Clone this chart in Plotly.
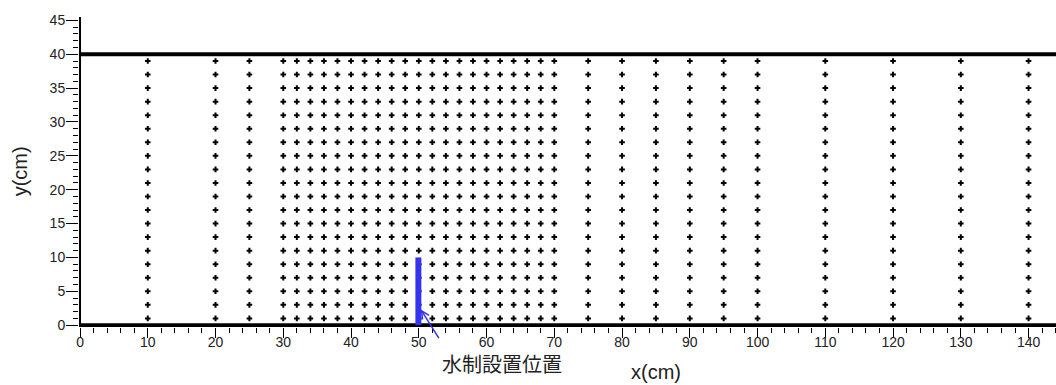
import plotly.graph_objects as go

# Measurement grid (cm)
x_cols = [10, 20, 25, 30, 32, 34, 36, 38, 40, 42, 44, 46, 48, 50, 52, 54, 56, 58,
          60, 62, 64, 66, 68, 70, 75, 80, 85, 90, 95, 100, 110, 120, 130, 140]
y_rows = [1, 3, 5, 7, 9, 11, 13, 15, 17, 19, 21, 23, 25, 27, 29, 31, 33, 35, 37, 39]

# Channel walls and groyne
wall_y = [0, 40]
groyne_x = 50
groyne_len = 10
groyne_label = "水制設置位置"

x_ticks = [0, 10, 20, 30, 40, 50, 60, 70, 80, 90, 100, 110, 120, 130, 140]
y_ticks = [0, 5, 10, 15, 20, 25, 30, 35, 40, 45]

X_RANGE = [-0.15, 144.05]
Y_RANGE = [-0.27, 45.5]

px_, py_ = [], []
for xv in x_cols:
    for yv in y_rows:
        px_.append(xv)
        py_.append(yv)

fig = go.Figure()
fig.add_trace(go.Scatter(
    x=px_, y=py_, mode="markers",
    marker=dict(symbol="cross-thin", size=4, color="black",
                line=dict(color="black", width=2)),
    hoverinfo="skip", showlegend=False, cliponaxis=False,
))

BLUE = "#3434ee"
shapes = []
# walls
for wy in wall_y:
    shapes.append(dict(type="line", xref="x", yref="y", x0=X_RANGE[0], x1=X_RANGE[1],
                       y0=wy, y1=wy, line=dict(color="black", width=4), layer="above"))
# y axis line
shapes.append(dict(type="line", xref="x", yref="y", x0=0, x1=0,
                   y0=Y_RANGE[0], y1=Y_RANGE[1], line=dict(color="black", width=2), layer="above"))
# groyne
shapes.append(dict(type="rect", xref="x", yref="y", x0=groyne_x - 0.5, x1=groyne_x + 0.38,
                   y0=0, y1=groyne_len, fillcolor=BLUE, line=dict(width=0), layer="above"))

annotations = [
    dict(x=groyne_x + 0.3, y=2.3, xref="x", yref="y", text="", showarrow=True,
         ax=19, ay=30, arrowhead=5, arrowsize=1, arrowwidth=1.5, arrowcolor=BLUE,
         standoff=0, startstandoff=0),
    dict(x=0.433, y=-0.118, xref="paper", yref="paper", text=groyne_label, showarrow=False,
         font=dict(family="Noto Sans CJK JP", size=20, color="#222222"),
         xanchor="center", yanchor="middle"),
    dict(x=0.591, y=-0.145, xref="paper", yref="paper", text="x(cm)", showarrow=False,
         font=dict(family="Liberation Sans, Arial", size=20, color="#222222"),
         xanchor="center", yanchor="middle"),
    dict(x=-0.0604, y=0.502, xref="paper", yref="paper", text="y(cm)", showarrow=False,
         textangle=-90,
         font=dict(family="Liberation Sans, Arial", size=20, color="#222222"),
         xanchor="center", yanchor="middle"),
]

fig.update_layout(
    width=1056, height=385,
    margin=dict(l=79, r=0, t=17, b=58),
    paper_bgcolor="white", plot_bgcolor="white",
    shapes=shapes, annotations=annotations,
    font=dict(family="Liberation Sans, Arial", size=14, color="#222222"),
    xaxis=dict(range=X_RANGE, showgrid=False, zeroline=False, showline=False,
               tickmode="array", tickvals=x_ticks, ticktext=[str(v) for v in x_ticks],
               ticks="outside", ticklen=10, tickwidth=1, tickcolor="black",
               ticklabelstandoff=-8,
               minor=dict(dtick=2, tick0=0, ticks="outside", ticklen=5, tickwidth=1,
                          tickcolor="black", showgrid=False),
               tickfont=dict(size=14, color="#222222")),
    yaxis=dict(range=Y_RANGE, showgrid=False, zeroline=False, showline=False,
               tickmode="array", tickvals=y_ticks, ticktext=[str(v) for v in y_ticks],
               ticks="outside", ticklen=12, tickwidth=1, tickcolor="black",
               ticklabelstandoff=-2,
               minor=dict(dtick=1, tick0=0, ticks="outside", ticklen=5, tickwidth=1,
                          tickcolor="black", showgrid=False),
               tickfont=dict(size=14, color="#222222")),
)

fig.write_html("out.html")
